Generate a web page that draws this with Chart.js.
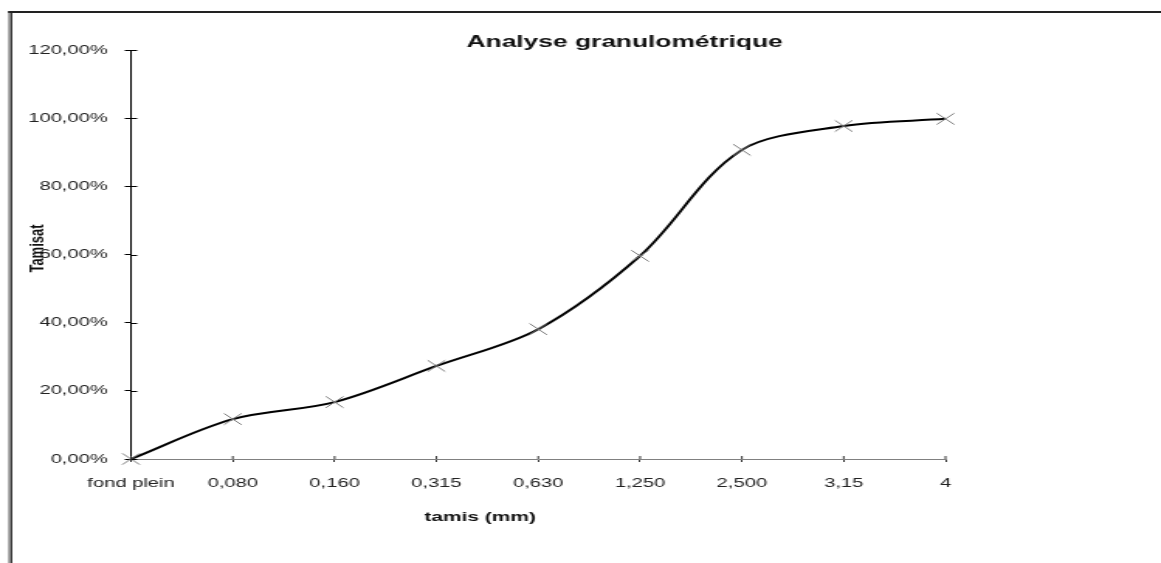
<!DOCTYPE html>
<html>
<head>
<meta charset="utf-8">
<script src="https://cdn.jsdelivr.net/npm/chart.js@4"></script>
<style>
  body { margin: 0; background: #fff; overflow: hidden; }
  /* the original picture is stretched sideways, so draw narrow and widen */
  #wrap { width: 749px; height: 563px; transform: scaleX(1.55); transform-origin: 0 0; }
</style>
</head>
<body>
<div id="wrap"><canvas id="granulo-chart"></canvas></div>
<script>
// Analyse granulométrique
const sieves = ["fond plein", "0,080", "0,160", "0,315", "0,630", "1,250", "2,500", "3,15", "4"];
const passing = [0, 11.7, 16.7, 27.3, 38.1, 59.6, 90.7, 97.7, 99.8];
const yTicks = [0, 20, 40, 60, 80, 100, 120];

const chartTitle = "Analyse granulométrique";
const xTitle = "tamis (mm)";
const yTitle = "Tamisat";

const FONT = "'Liberation Sans', Arial, sans-serif";

// frame, titles and the inner half of the crossing tick marks
const decorations = {
  id: "decorations",
  afterDraw(chart) {
    const { ctx, scales } = chart;
    const x = scales.x;
    const y = scales.y;
    ctx.save();

    // outer frame (top and left only)
    ctx.fillStyle = "#9a9a9a";
    ctx.fillRect(5.2, 11, 2.4, chart.height);
    ctx.strokeStyle = "#222";
    ctx.lineWidth = 1;
    ctx.beginPath();
    ctx.moveTo(7.4, 11);
    ctx.lineTo(7.4, chart.height);
    ctx.stroke();
    ctx.lineWidth = 2;
    ctx.beginPath();
    ctx.moveTo(5.2, 12);
    ctx.lineTo(chart.width, 12);
    ctx.stroke();

    // ticks crossing into the plot
    ctx.lineWidth = 1;
    ctx.strokeStyle = "#000";
    y.ticks.forEach((t, i) => {
      const py = Math.round(y.getPixelForTick(i)) + 0.5;
      ctx.beginPath();
      ctx.moveTo(y.right, py);
      ctx.lineTo(y.right + 4, py);
      ctx.stroke();
    });
    ctx.strokeStyle = "#333";
    x.ticks.forEach((t, i) => {
      const px = x.getPixelForTick(i);
      ctx.beginPath();
      ctx.moveTo(px, x.top);
      ctx.lineTo(px, x.top - 3);
      ctx.stroke();
    });

    // titles
    ctx.fillStyle = "#111";
    ctx.textBaseline = "alphabetic";
    ctx.textAlign = "center";
    ctx.font = "bold 17px " + FONT;
    ctx.fillText(chartTitle, 403, 47);
    ctx.font = "bold 13.5px " + FONT;
    ctx.fillText(xTitle, 309.7, 521);
    ctx.translate(27.7, 248.5);
    ctx.rotate(-Math.PI / 2);
    ctx.font = "bold 13px " + FONT;
    ctx.fillText(yTitle, 0, 0);
    ctx.restore();
  },
};

const granuloCtx = document.getElementById("granulo-chart").getContext("2d");
new Chart(granuloCtx, {
  type: "line",
  data: {
    labels: sieves,
    datasets: [
      {
        label: "Tamisat",
        data: passing,
        borderColor: "#000",
        borderWidth: 2,
        tension: 0.33,
        fill: false,
        clip: false,
        pointStyle: "crossRot",
        pointRadius: 8,
        pointBorderColor: "#7a7a7a",
        pointBorderWidth: 1,
      },
    ],
  },
  options: {
    responsive: true,
    maintainAspectRatio: false,
    animation: false,
    layout: { padding: { top: 50, right: 139, bottom: 0, left: 0 } },
    plugins: {
      legend: { display: false },
      title: { display: false },
      tooltip: { enabled: false },
    },
    scales: {
      x: {
        offset: false,
        grid: { drawOnChartArea: false, tickLength: 3, color: "#333" },
        border: { color: "#808080", width: 1 },
        ticks: {
          autoSkip: false,
          maxRotation: 0,
          padding: 14,
          color: "#222",
          font: { family: FONT, size: 13 },
        },
        afterFit(scale) {
          scale.height = 104;
        },
      },
      y: {
        min: 0,
        max: 120,
        grid: { drawOnChartArea: false, tickLength: 4, color: "#000" },
        border: { color: "#000", width: 1 },
        ticks: {
          padding: 11,
          color: "#222",
          font: { family: FONT, size: 13 },
          callback: (v) => v.toFixed(2).replace(".", ",") + "%",
        },
        afterBuildTicks(scale) {
          scale.ticks = yTicks.map((v) => ({ value: v }));
        },
        afterFit(scale) {
          scale.width = 84.5;
        },
      },
    },
  },
  plugins: [decorations],
});
</script>
</body>
</html>
